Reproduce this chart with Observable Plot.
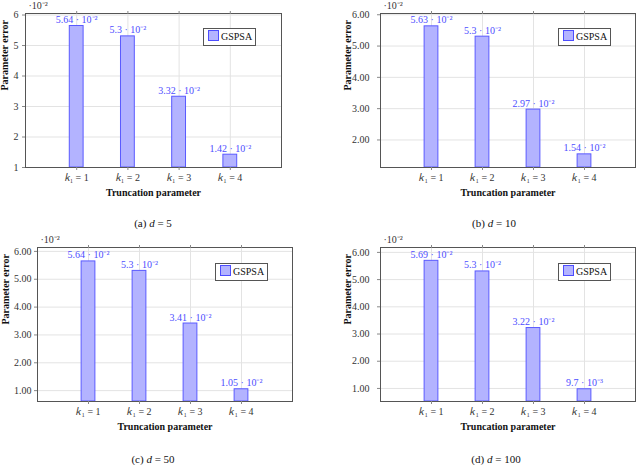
<!DOCTYPE html>
<html>
<head>
<meta charset="utf-8">
<script src="https://cdn.jsdelivr.net/npm/d3@7"></script>
<script src="https://cdn.jsdelivr.net/npm/@observablehq/plot@0.6"></script>
<style>
  body { margin: 0; background: white; }
  #page { position: relative; width: 640px; height: 465px; font-family: "Liberation Serif", serif; }
  .panel { position: absolute; }
  .caption { position: absolute; width: 140px; text-align: center; font-size: 11px; line-height: 14px; color: #111; }
  .legend { position: absolute; width: 51px; height: 16px; border: 1px solid #555; background: white;
            font-size: 10px; line-height: 16px; color: #111; box-sizing: content-box; }
  .legend span { display: inline-block; width: 9px; height: 9px; background: #b3b3ff; border: 1px solid #4d4dff;
                 vertical-align: -1px; margin: 0 2px 0 4px; }
</style>
</head>
<body>
<div id="page"></div>
<script>
// truncation parameter k1
const kValues = [1, 2, 3, 4];

// parameter error (in units of 10^-2) for each dimension d
const errD5 = [5.64, 5.3, 3.32, 1.42];
const errD10 = [5.63, 5.3, 2.97, 1.54];
const errD50 = [5.64, 5.3, 3.41, 1.05];
const errD100 = [5.69, 5.3, 3.22, 0.97];

// labels printed above the bars
const labelsD5 = ["5.64 · 10⁻²", "5.3 · 10⁻²", "3.32 · 10⁻²", "1.42 · 10⁻²"];
const labelsD10 = ["5.63 · 10⁻²", "5.3 · 10⁻²", "2.97 · 10⁻²", "1.54 · 10⁻²"];
const labelsD50 = ["5.64 · 10⁻²", "5.3 · 10⁻²", "3.41 · 10⁻²", "1.05 · 10⁻²"];
const labelsD100 = ["5.69 · 10⁻²", "5.3 · 10⁻²", "3.22 · 10⁻²", "9.7 · 10⁻³"];

// y tick values per panel
const yTicksD5 = [1, 2, 3, 4, 5, 6];
const yTicksD10 = [2, 3, 4, 5, 6];
const yTicksD50 = [1, 2, 3, 4, 5, 6];
const yTicksD100 = [1, 2, 3, 4, 5, 6];

const seriesName = "GSPSA";
const captions = ["(a) <i>d</i> = 5", "(b) <i>d</i> = 10", "(c) <i>d</i> = 50", "(d) <i>d</i> = 100"];

const barFill = "#b3b3ff";
const barStroke = "#5a5aff";
const labelColor = "#4d4dff";

// layout of each panel
const panels = [
  { err: errD5, labels: labelsD5, ticks: yTicksD5, fmt: d3.format("d"), ydom: [1, 6.05],
    left: 0, top: 0, mL: 25, mR: 39, mT: 13, pad: 4, ylab: -21, legend: [203, 28], cap: [153, 216] },
  { err: errD10, labels: labelsD10, ticks: yTicksD10, fmt: d3.format(".2f"), ydom: [1.12, 6.04],
    left: 320, top: 0, mL: 60, mR: 5, mT: 13, pad: 8, ylab: -33, legend: [558, 28], cap: [494, 216] },
  { err: errD50, labels: labelsD50, ticks: yTicksD50, fmt: d3.format(".2f"), ydom: [0.61, 6.14],
    left: 0, top: 230, mL: 37, mR: 28, mT: 17, pad: 3, ylab: -32, legend: [215, 263], cap: [153, 452] },
  { err: errD100, labels: labelsD100, ticks: yTicksD100, fmt: d3.format(".2f"), ydom: [0.52, 6.18],
    left: 320, top: 230, mL: 60, mR: 5, mT: 17, pad: 8, ylab: -33, legend: [558, 263], cap: [496, 452] }
];

function createPanel(p) {
  const rows = kValues.map((k, i) => ({ k, v: p.err[i], label: p.labels[i] }));
  const frameH = 154;
  return Plot.plot({
    width: 320,
    height: p.mT + frameH + 38,
    marginTop: p.mT,
    marginBottom: 38,
    marginLeft: p.mL,
    marginRight: p.mR,
    style: { fontFamily: "'Liberation Serif', serif", fontSize: "10px", background: "white", overflow: "visible" },
    x: { domain: [0, 5] },
    y: { domain: p.ydom },
    marks: [
      Plot.gridY(p.ticks, { stroke: "#e3e3e3", strokeOpacity: 1 }),
      Plot.gridX(kValues, { stroke: "#e3e3e3", strokeOpacity: 1 }),
      Plot.rect(rows, {
        x1: d => d.k - 0.135, x2: d => d.k + 0.135,
        y1: () => p.ydom[0], y2: "v",
        fill: barFill, stroke: barStroke, strokeWidth: 1
      }),
      Plot.text(rows, { x: "k", y: "v", text: "label", dy: -3, lineAnchor: "bottom", fill: labelColor, fontSize: 10 }),
      Plot.frame({ stroke: "#555", strokeWidth: 1 }),
      Plot.axisY(p.ticks, { tickSize: 3, tickPadding: p.pad, tickFormat: p.fmt, label: null, stroke: "#888", fill: "#333" }),
      Plot.axisX(kValues, { tickSize: 3, tickPadding: 3, tickFormat: k => `𝑘₁ = ${k}`, label: null, stroke: "#888", fill: "#333" }),
      Plot.axisX(kValues, { anchor: "top", tickSize: 3, tickFormat: () => "", label: null, stroke: "#888" }),
      Plot.text(["·10⁻²"], { frameAnchor: "top-left", text: d => d, dx: 3, dy: -8, textAnchor: "start", lineAnchor: "middle", fill: "#333" }),
      Plot.text(["Parameter error"], { frameAnchor: "left", text: d => d, rotate: -90, dx: p.ylab, fontWeight: "bold", fill: "#111" }),
      Plot.text(["Truncation parameter"], { frameAnchor: "bottom", text: d => d, dy: 28, fontWeight: "bold", fill: "#111" })
    ]
  });
}

document.addEventListener("DOMContentLoaded", function () {
  const page = document.getElementById("page");
  panels.forEach((p, i) => {
    const holder = document.createElement("div");
    holder.className = "panel";
    holder.style.left = p.left + "px";
    holder.style.top = p.top + "px";
    holder.appendChild(createPanel(p));
    page.appendChild(holder);

    const legend = document.createElement("div");
    legend.className = "legend";
    legend.style.left = p.legend[0] + "px";
    legend.style.top = p.legend[1] + "px";
    legend.innerHTML = `<span></span>${seriesName}`;
    page.appendChild(legend);

    const cap = document.createElement("div");
    cap.className = "caption";
    cap.style.left = (p.cap[0] - 70) + "px";
    cap.style.top = p.cap[1] + "px";
    cap.innerHTML = captions[i];
    page.appendChild(cap);
  });
});
</script>
</body>
</html>
